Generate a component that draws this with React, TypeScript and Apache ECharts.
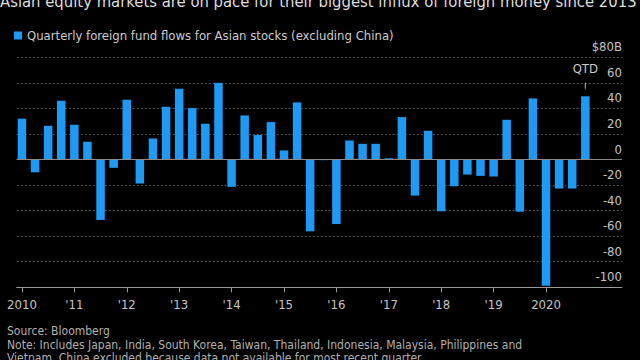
import React, { useEffect, useRef } from "react";
import * as echarts from "echarts";

const FONT = "'Liberation Sans Narrow', 'DejaVu Sans Condensed', 'Liberation Sans', sans-serif";

const titleText = "Asian equity markets are on pace for their biggest influx of foreign money since 2013";
const seriesName = "Quarterly foreign fund flows for Asian stocks (excluding China)";
const sourceLines = [
  "Source: Bloomberg",
  "Note: Includes Japan, India, South Korea, Taiwan, Thailand, Indonesia, Malaysia, Philippines and",
  "Vietnam. China excluded because data not available for most recent quarter.",
];

// 2010 Q1 ... 2020 Q4 (last quarter is quarter-to-date)
const quarters = [
  "2010 Q1", "2010 Q2", "2010 Q3", "2010 Q4",
  "2011 Q1", "2011 Q2", "2011 Q3", "2011 Q4",
  "2012 Q1", "2012 Q2", "2012 Q3", "2012 Q4",
  "2013 Q1", "2013 Q2", "2013 Q3", "2013 Q4",
  "2014 Q1", "2014 Q2", "2014 Q3", "2014 Q4",
  "2015 Q1", "2015 Q2", "2015 Q3", "2015 Q4",
  "2016 Q1", "2016 Q2", "2016 Q3", "2016 Q4",
  "2017 Q1", "2017 Q2", "2017 Q3", "2017 Q4",
  "2018 Q1", "2018 Q2", "2018 Q3", "2018 Q4",
  "2019 Q1", "2019 Q2", "2019 Q3", "2019 Q4",
  "2020 Q1", "2020 Q2", "2020 Q3", "2020 Q4",
];

// $ billions
const flows = [
  32, -10, 26.4, 46,
  27.2, 13.9, -47.3, -6.5,
  46.8, -18.8, 16.5, 41.3,
  55.4, 40.3, 28, 60,
  -21.4, 34.5, 19.1, 29.3,
  7.1, 44.7, -56.2, -0.5,
  -50.5, 14.9, 12.3, 12.3,
  1, 33.2, -28.2, 22.5,
  -40.5, -20.9, -11.8, -12.8,
  -13.3, 31.1, -40.8, 47.8,
  -98.8, -22.7, -22.7, 49.5,
];

const yearTicks = [0, 4, 8, 12, 16, 20, 24, 28, 32, 36, 40];
const yearLabels = ["2010", "'11", "'12", "'13", "'14", "'15", "'16", "'17", "'18", "'19", "2020"];

const qtdIndex = 43;
const qtdMarkValue = 57.7;

export default function App() {
  const ref = useRef<HTMLDivElement>(null);

  useEffect(() => {
    if (!ref.current) return;
    document.body.style.margin = "0";
    const chart = echarts.init(ref.current, undefined, { renderer: "svg" });

    const barData = flows.map((v, i) => ({ name: quarters[i], value: [i, v] }));

    const option: any = {
      animation: false,
      backgroundColor: "#000000",
      textStyle: { fontFamily: FONT },
      legend: {
        left: 9,
        top: 24,
        icon: "rect",
        itemWidth: 8,
        itemHeight: 8,
        itemGap: 10,
        textStyle: { color: "#cccccc", fontSize: 13, fontFamily: FONT },
        data: [seriesName],
      },
      grid: { left: 16.7, right: 18, top: 57.3, bottom: 72.7, containLabel: false },
      xAxis: {
        type: "value",
        min: -0.4,
        max: 45.8,
        splitLine: { show: false },
        axisLine: { show: true, onZero: false, lineStyle: { color: "#9a9a9a", width: 1 } },
        axisTick: {
          show: true,
          length: 5,
          customValues: yearTicks,
          lineStyle: { color: "#9a9a9a" },
        },
        axisLabel: {
          show: true,
          customValues: yearTicks,
          margin: 11,
          color: "#c4c4c4",
          fontSize: 13,
          fontFamily: FONT,
          formatter: (v: number) => {
            const k = yearTicks.indexOf(Math.round(v));
            return k >= 0 ? yearLabels[k] : "";
          },
        },
      },
      yAxis: {
        type: "value",
        position: "right",
        min: -100,
        max: 80,
        interval: 20,
        axisLine: { show: false },
        axisTick: { show: false },
        splitLine: { show: true, lineStyle: { color: "#555555", type: [2, 2], width: 1 } },
        axisLabel: {
          inside: true,
          margin: 0,
          color: "#c4c4c4",
          fontSize: 13,
          fontFamily: FONT,
          align: "right",
          verticalAlign: "bottom",
          padding: [0, 0, 4, 0],
          formatter: (v: number) => (v === 80 ? "$80B" : String(v)),
        },
      },
      series: [
        {
          name: seriesName,
          type: "bar",
          data: barData,
          barWidth: 8.5,
          itemStyle: { color: "#1e9af5" },
          markLine: {
            silent: true,
            symbol: ["none", "none"],
            label: { show: false },
            lineStyle: { type: "solid", color: "#8a8a8a", width: 1 },
            data: [{ yAxis: 0 }],
          },
          markPoint: {
            silent: true,
            data: [
              {
                coord: [qtdIndex, qtdMarkValue],
                symbol: "rect",
                symbolSize: [1, 6],
                itemStyle: { color: "#bbbbbb" },
                label: {
                  show: true,
                  position: "top",
                  distance: 8,
                  formatter: "QTD",
                  color: "#cccccc",
                  fontSize: 13,
                  fontFamily: FONT,
                },
              },
            ],
          },
        },
      ],
      graphic: [
        {
          type: "text",
          left: 0,
          top: -7,
          style: { text: titleText, fill: "#dddddd", fontSize: 16.5, fontFamily: FONT },
        },
        {
          type: "text",
          left: 7,
          top: 325,
          style: { text: sourceLines[0], fill: "#b0b0b0", fontSize: 12, fontFamily: FONT },
        },
        {
          type: "text",
          left: 7,
          top: 339,
          style: { text: sourceLines[1], fill: "#b0b0b0", fontSize: 12, fontFamily: FONT },
        },
        {
          type: "text",
          left: 7,
          top: 352,
          style: { text: sourceLines[2], fill: "#b0b0b0", fontSize: 12, fontFamily: FONT },
        },
      ],
    };

    chart.setOption(option);
    return () => chart.dispose();
  }, []);

  return (
    <div
      ref={ref}
      style={{ position: "fixed", left: 0, top: 0, width: 640, height: 360, background: "#000" }}
    />
  );
}
